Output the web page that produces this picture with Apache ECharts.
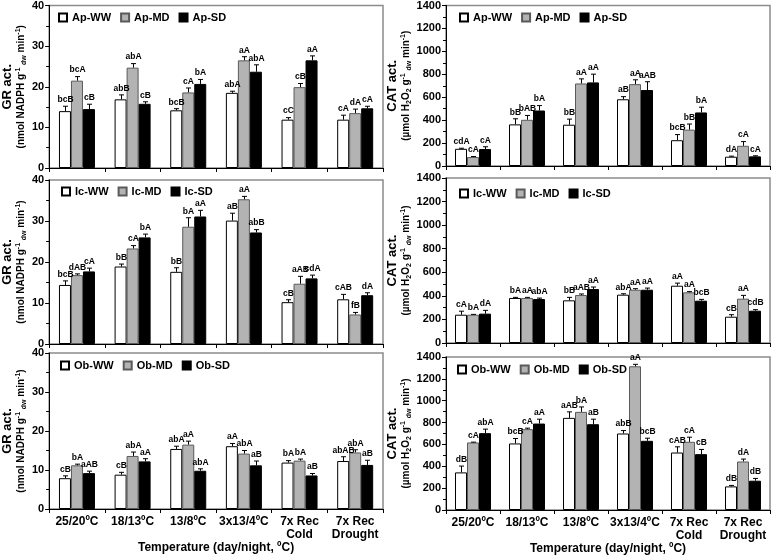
<!DOCTYPE html>
<html><head><meta charset="utf-8">
<script src="https://cdn.jsdelivr.net/npm/echarts@6/dist/echarts.min.js"></script>
<style>html,body{margin:0;padding:0;background:#fff}#c{width:771px;height:556px}</style>
</head><body><div id="c"></div><script>
const categories = ['25/20ºC','18/13ºC','13/8ºC','3x13/4ºC','7x Rec\nCold','7x Rec\nDrought'];

// GR activity, A. pseudoplatanus (Ap)
const apGR_WW = [14.0,16.9,14.2,18.5,11.9,11.9];
const apGR_WW_err = [1.2,1.1,0.4,0.4,0.5,1.1];
const apGR_WW_lab = ['bcB','abB','bcB','abA','cC','cA'];
const apGR_MD = [21.5,24.7,18.6,26.5,19.9,13.5];
const apGR_MD_err = [1.0,1.0,1.1,0.9,0.9,1.0];
const apGR_MD_lab = ['bcA','abA','cA','aA','cB','dA'];
const apGR_SD = [14.5,15.8,20.7,23.7,26.5,14.7];
const apGR_SD_err = [1.2,0.5,1.1,1.7,1.1,0.5];
const apGR_SD_lab = ['cB','cB','bA','abA','aA','cA'];

// GR activity, Ic
const icGR_WW = [14.4,18.9,17.6,30.1,10.2,10.9];
const icGR_WW_err = [1.0,0.6,1.0,1.8,0.6,1.2];
const icGR_WW_lab = ['bcB','bB','bB','aB','cB','cAB'];
const icGR_MD = [16.8,23.3,28.6,35.3,14.7,7.2];
const icGR_MD_err = [0.3,0.7,2.2,0.7,1.8,0.5];
const icGR_MD_lab = ['dAB','cA','bA','aA','aAB','fB'];
const icGR_SD = [17.7,26.0,31.1,27.2,16.0,11.9];
const icGR_SD_err = [0.8,0.8,1.5,0.7,0.8,0.6];
const icGR_SD_lab = ['cA','bA','aA','abB','cdA','dA'];

// GR activity, Ob
const obGR_WW = [7.9,8.8,15.4,16.1,11.9,12.3];
const obGR_WW_err = [0.6,0.6,0.7,0.7,0.5,1.1];
const obGR_WW_lab = ['cB','cB','abA','aA','bA','abAB'];
const obGR_MD = [11.2,13.6,16.5,14.2,12.4,14.5];
const obGR_MD_err = [0.3,1.0,0.9,0.8,0.4,0.7];
const obGR_MD_lab = ['bA','abA','aA','abA','bA','abA'];
const obGR_SD = [9.2,12.2,9.8,11.2,8.6,11.3];
const obGR_SD_err = [0.5,0.7,0.5,1.1,0.5,1.2];
const obGR_SD_lab = ['aAB','aA','abA','aB','aB','aB'];

// CAT activity, Ap
const apCAT_WW = [150,363,360,582,225,81];
const apCAT_WW_err = [5,49,49,23,49,5];
const apCAT_WW_lab = ['cdA','bB','bB','aB','bcB','dA'];
const apCAT_MD = [78,403,720,714,317,176];
const apCAT_MD_err = [5,38,40,38,49,37];
const apCAT_MD_lab = ['cA','bAB','aA','aA','bB','cA'];
const apCAT_SD = [148,484,729,663,467,84];
const apCAT_SD_err = [20,43,72,72,46,5];
const apCAT_SD_lab = ['cA','bA','aA','aAB','bA','cA'];

// CAT activity, Ic
const icCAT_WW = [240,382,362,410,486,223];
const icCAT_WW_err = [30,5,25,8,22,17];
const icCAT_WW_lab = ['cA','bA','bB','abA','aA','cB'];
const icCAT_MD = [240,382,407,452,430,376];
const icCAT_MD_err = [3,5,9,9,6,28];
const icCAT_MD_lab = ['bA','aA','aAB','aA','aA','aA'];
const icCAT_SD = [249,373,458,452,359,274];
const icCAT_SD_err = [28,8,17,14,11,9];
const icCAT_SD_lab = ['dA','abA','aA','aA','bcB','cdB'];

// CAT activity, Ob
const obCAT_WW = [344,609,843,700,526,216];
const obCAT_WW_err = [58,45,55,27,52,9];
const obCAT_WW_lab = ['dB','bcB','aAB','abB','cAB','dB'];
const obCAT_MD = [618,740,898,1315,624,444];
const obCAT_MD_err = [3,9,45,18,42,22];
const obCAT_MD_lab = ['cA','cA','bA','aA','cA','dA'];
const obCAT_SD = [703,791,785,633,511,268];
const obCAT_SD_err = [37,40,46,24,43,21];
const obCAT_SD_lab = ['abA','aA','aB','bcB','cB','dB'];

const FONT = 'Arial, "Liberation Sans", sans-serif';
const BAR_W = 12;
const fills = ['#ffffff','#b3b3b3','#000000'];
const borders = ['#000000','#5a5a5a','#000000'];

const grAxisName = '{t|GR act.}\n{s|(nmol NADPH g}{sup|-1}{s| }{sub|dw}{s| min}{sup|-1}{s|)}';
const catAxisName = '{t|CAT act.}\n{s|(µmol H}{sub|2}{s|O}{sub|2}{s| g}{sup|-1}{s| }{sub|dw}{s| min}{sup|-1}{s|)}';
const richName = {
  t: {fontSize: 13, fontWeight: 'bold', lineHeight: 15, align: 'center', fontFamily: FONT, color: '#000'},
  s: {fontSize: 10, fontWeight: 'bold', lineHeight: 13, align: 'center', fontFamily: FONT, color: '#000'},
  sup: {fontSize: 7, fontWeight: 'bold', lineHeight: 8, verticalAlign: 'top', align: 'center', fontFamily: FONT, color: '#000'},
  sub: {fontSize: 7, fontWeight: 'bold', lineHeight: 8, verticalAlign: 'bottom', align: 'center', fontFamily: FONT, color: '#000'}
};

const panels = [
  {grid: {left: 49, top: 4, width: 334, height: 164}, legend: {left: 58, top: 12}, prefix: 'Ap',
   means: [apGR_WW, apGR_MD, apGR_SD], errs: [apGR_WW_err, apGR_MD_err, apGR_SD_err], labs: [apGR_WW_lab, apGR_MD_lab, apGR_SD_lab],
   max: 40, interval: 10, name: grAxisName, nameGap: 20, showX: false},
  {grid: {left: 446, top: 4, width: 324, height: 162}, legend: {left: 459, top: 12}, prefix: 'Ap',
   means: [apCAT_WW, apCAT_MD, apCAT_SD], errs: [apCAT_WW_err, apCAT_MD_err, apCAT_SD_err], labs: [apCAT_WW_lab, apCAT_MD_lab, apCAT_SD_lab],
   max: 1400, interval: 200, name: catAxisName, nameGap: 29, showX: false},
  {grid: {left: 49, top: 180, width: 334, height: 164}, legend: {left: 61, top: 186}, prefix: 'Ic',
   means: [icGR_WW, icGR_MD, icGR_SD], errs: [icGR_WW_err, icGR_MD_err, icGR_SD_err], labs: [icGR_WW_lab, icGR_MD_lab, icGR_SD_lab],
   max: 40, interval: 10, name: grAxisName, nameGap: 20, showX: false},
  {grid: {left: 446, top: 178, width: 324, height: 165}, legend: {left: 459, top: 188}, prefix: 'Ic',
   means: [icCAT_WW, icCAT_MD, icCAT_SD], errs: [icCAT_WW_err, icCAT_MD_err, icCAT_SD_err], labs: [icCAT_WW_lab, icCAT_MD_lab, icCAT_SD_lab],
   max: 1400, interval: 200, name: catAxisName, nameGap: 29, showX: false},
  {grid: {left: 49, top: 353, width: 334, height: 156}, legend: {left: 60, top: 360}, prefix: 'Ob',
   means: [obGR_WW, obGR_MD, obGR_SD], errs: [obGR_WW_err, obGR_MD_err, obGR_SD_err], labs: [obGR_WW_lab, obGR_MD_lab, obGR_SD_lab],
   max: 40, interval: 10, name: grAxisName, nameGap: 20, showX: true},
  {grid: {left: 446, top: 357, width: 324, height: 153}, legend: {left: 457, top: 364}, prefix: 'Ob',
   means: [obCAT_WW, obCAT_MD, obCAT_SD], errs: [obCAT_WW_err, obCAT_MD_err, obCAT_SD_err], labs: [obCAT_WW_lab, obCAT_MD_lab, obCAT_SD_lab],
   max: 1400, interval: 200, name: catAxisName, nameGap: 29, showX: true}
];
const suffixes = ['WW','MD','SD'];

const grids = [], xAxes = [], yAxes = [], legends = [], series = [];
panels.forEach((p, k) => {
  grids.push(Object.assign({show: true, borderColor: '#8c8c8c', borderWidth: 1.5, backgroundColor: 'transparent'}, p.grid));
  xAxes.push({
    type: 'category', gridIndex: k, data: categories, boundaryGap: true,
    axisLine: {lineStyle: {color: '#000', width: 1}},
    axisTick: {show: true, length: 4, lineStyle: {color: '#000'}},
    axisLabel: {show: p.showX, interval: 0, fontSize: 12, fontWeight: 'bold', color: '#000', fontFamily: FONT, margin: 6, lineHeight: 13},
    name: p.showX ? 'Temperature (day/night, ºC)' : '',
    nameLocation: 'middle', nameGap: 32,
    nameTextStyle: {fontSize: 12, fontWeight: 'bold', color: '#000', fontFamily: FONT}
  });
  yAxes.push({
    type: 'value', gridIndex: k, min: 0, max: p.max, interval: p.interval,
    axisLine: {show: true, lineStyle: {color: '#000', width: 1}},
    axisTick: {show: true, length: 4, lineStyle: {color: '#000'}},
    minorTick: {show: true, splitNumber: 2, length: 3, lineStyle: {color: '#000'}},
    splitLine: {show: false},
    axisLabel: {fontSize: 11, fontWeight: 'bold', color: '#000', fontFamily: FONT, margin: 5, formatter: v => String(v)},
    name: p.name, nameLocation: 'middle', nameRotate: 90, nameGap: p.nameGap,
    nameTextStyle: {rich: richName, fontFamily: FONT, color: '#000'}
  });
  const names = suffixes.map(s => p.prefix + '-' + s);
  legends.push({
    left: p.legend.left, top: p.legend.top, padding: 0, itemWidth: 8, itemHeight: 8, itemGap: 9,
    icon: 'rect', selectedMode: false, data: names,
    textStyle: {fontSize: 11, fontWeight: 'bold', color: '#000', fontFamily: FONT}
  });
  for (let s = 0; s < 3; s++) {
    const means = p.means[s], errs = p.errs[s], labs = p.labs[s];
    series.push({
      type: 'bar', name: names[s], xAxisIndex: k, yAxisIndex: k, data: means,
      barWidth: BAR_W, barGap: '0%', silent: true,
      itemStyle: {color: fills[s], borderColor: borders[s], borderWidth: 1}
    });
    series.push({
      type: 'custom', name: names[s] + ' err', xAxisIndex: k, yAxisIndex: k, z: 5, silent: true,
      data: means.map((m, i) => [i, m + errs[i]]),
      renderItem: (params, api) => {
        const i = params.dataIndex;
        const base = api.coord([i, means[i]]);
        const top = api.coord([i, means[i] + errs[i]]);
        const x = Math.round(base[0] + (s - 1) * BAR_W) + 0.5;
        const children = [];
        if (errs[i] > 0) {
          children.push({type: 'line', shape: {x1: x, y1: base[1], x2: x, y2: top[1]}, style: {stroke: '#000', lineWidth: 1}});
          children.push({type: 'line', shape: {x1: x - 2.5, y1: top[1], x2: x + 2.5, y2: top[1]}, style: {stroke: '#000', lineWidth: 1}});
        }
        children.push({type: 'text', x: x, y: top[1] - 2,
          style: {text: labs[i], textAlign: 'center', textVerticalAlign: 'bottom', font: 'bold 8.5px ' + FONT, fill: '#000'}});
        return {type: 'group', children: children};
      }
    });
  }
});

const chart = echarts.init(document.getElementById('c'));
chart.setOption({
  animation: false,
  backgroundColor: '#fff',
  textStyle: {fontFamily: FONT},
  grid: grids, xAxis: xAxes, yAxis: yAxes, legend: legends, series: series
});
</script></body></html>
